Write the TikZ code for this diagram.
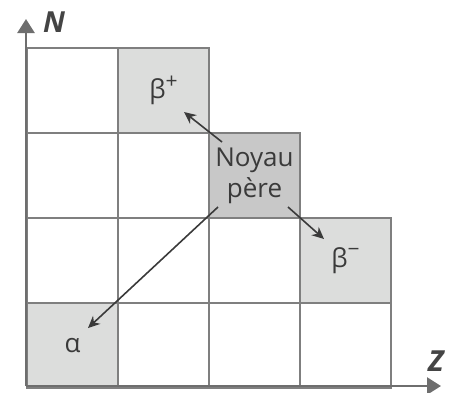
\documentclass[tikz,border=0pt]{standalone}
\usepackage{fontspec}
\setmainfont{Open Sans}
\newfontfamily\axfont{Open Sans}
\usetikzlibrary{arrows.meta}
\definecolor{gridc}{HTML}{7F7F7F}
\definecolor{axc}{HTML}{6E6E6E}
\definecolor{lightg}{HTML}{DCDDDC}
\definecolor{darkg}{HTML}{C8C8C8}
\definecolor{txt}{HTML}{3A3A3A}
\newcommand{\supsc}[1]{\raisebox{0.4em}{\fontsize{21}{21}\selectfont #1}}
\begin{document}
\begin{tikzpicture}[x=1pt,y=-1pt,
  cell/.style={draw=gridc,line width=2pt,minimum width=91pt,minimum height=85pt,inner sep=0pt,anchor=north west,text=txt,font=\fontsize{26}{30}\selectfont,align=center},
  lcell/.style={cell,fill=lightg},
  dcell/.style={cell,fill=darkg},
  axis/.style={draw=axc,line width=2.6pt,-{Triangle[length=14pt,width=17pt]}},
  decay/.style={draw=txt,line width=1.6pt,-{Stealth[length=12pt,width=11pt]}},
  axlabel/.style={text=txt!85!gridc,font=\axfont\bfseries\itshape\fontsize{29}{30}\selectfont}]
\useasboundingbox (0,0) rectangle (454,392);
% row 1
\node[cell] (r1c0) at (26,47) {};
\node[lcell] (bplus) at (117,47) {β\supsc{+}};
% row 2
\node[cell] (r2c0) at (26,132) {};
\node[cell] (r2c1) at (117,132) {};
\node[dcell] (pere) at (208,132) {Noyau\\[1pt]père};
% row 3
\node[cell] (r3c0) at (26,217) {};
\node[cell] (r3c1) at (117,217) {};
\node[cell] (r3c2) at (208,217) {};
\node[lcell] (bminus) at (299,217) {β\supsc{−}};
% row 4
\node[lcell] (alpha) at (26,302) {α};
\node[cell] (r4c1) at (117,302) {};
\node[cell] (r4c2) at (208,302) {};
\node[cell] (r4c3) at (299,302) {};
% axes
\coordinate (origin) at (26,386);
\coordinate (ntip) at (26,19);
\coordinate (ztip) at (441,386);
\draw[axis] (origin) -- (ntip);
\draw[axis] (origin) -- (ztip);
\node[axlabel] (nlab) at (54,22) {N};
\node[axlabel] (zlab) at (436,361) {Z};
% decays
\coordinate (s1) at (222,142);
\coordinate (e1) at (184,112);
\coordinate (s2) at (288,207);
\coordinate (e2) at (324,239);
\coordinate (s3) at (218,207);
\coordinate (e3) at (88,328);
\draw[decay] (s1) -- (e1);
\draw[decay] (s2) -- (e2);
\draw[decay] (s3) -- (e3);
\end{tikzpicture}
\end{document}
